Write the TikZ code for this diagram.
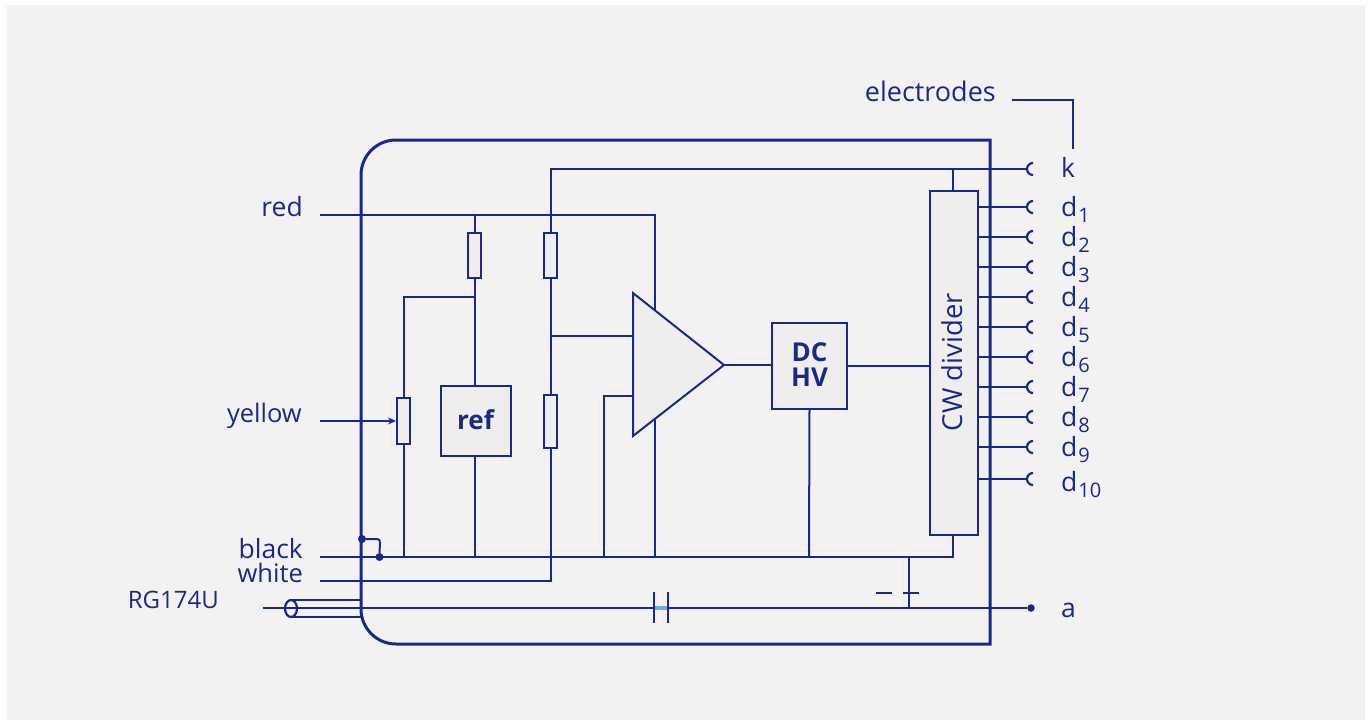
\documentclass[tikz,border=0pt]{standalone}
\usepackage{fontspec}
\setmainfont{Open Sans}
\usetikzlibrary{arrows.meta}
\definecolor{ink}{HTML}{1A2A82}
\definecolor{bgc}{HTML}{F2F2F2}
\definecolor{boxc}{HTML}{EEEEEE}
\definecolor{capc}{HTML}{6FA8DC}
\tikzset{
  wire/.style={draw=ink,line width=2pt},
  frame/.style={draw=ink,line width=3pt},
  boxn/.style={draw=ink,line width=2pt,fill=boxc,inner sep=0pt,minimum width=#1},
  res/.style={draw=ink,line width=2pt,fill=boxc,inner sep=0pt,minimum width=13pt},
  lab/.style={text=ink,font=\fontsize{26.5}{28}\selectfont,inner sep=0pt},
  labr/.style={lab,anchor=base east},
  labl/.style={lab,anchor=base west},
  dotn/.style={circle,fill=ink,inner sep=0pt,minimum size=8pt},
  blab/.style={text=ink,font=\fontsize{26}{28}\selectfont\bfseries,align=center},
  term/.style={draw=ink,line width=2.2pt},
}
\newcommand{\dsub}[1]{d\raisebox{-6pt}{\fontsize{20}{20}\selectfont\kern1pt #1}}
\begin{document}
\begin{tikzpicture}[x=1pt,y=-1pt]
\useasboundingbox (0,0) rectangle (1371,720);
\fill[white] (0,0) rectangle (1371,720);
\fill[bgc] (7,5) rectangle (1365,720);
% named points
\foreach \n/\x/\y in {redS/320/215,redJ/474.5/215,redC/654.5/215,redE/654.5/557,
  whS/320/581,whC/550.5/581,kC/550.5/169,kJ/953/169,
  blS/320/557,blC/953/557,gA/403.5/557,gB/474.5/557,gC/603.5/557,gE/809/557,gF/909/557,
  tap/474.5/297,tapC/403.5/297,fb/550.5/336,fbE/633/336,inC/603.5/396,inE/633/396,
  yS/320/421,aS/263/608,aMid/909/608,capL/654/608,capR/668/608,
  capLt/654/592,capLb/654/623,capRt/668/592,capRb/668/623,
  batL1/876/592.5,batL2/892/592.5,batR1/903/592.5,batR2/919/592.5,
  cxT/291/600,cxTe/361/600,cxB/291/617,cxBe/361/617,
  elA/1012/100,elB/1073/100,elC/1073/149,conK/380/539}{\coordinate (\n) at (\x,\y);}
% wires under boxes
\draw[wire] (redS) -- (redC) -- (redE);
\draw[wire] (redJ) -- (gB);
\draw[wire] (tap) -- (tapC) -- (gA);
\draw[wire] (whS) -- (whC) -- (kC) -- (1027,169);
\draw[wire] (fb) -- (fbE);
\draw[wire] (gC) -- (inC) -- (inE);
\draw[wire] (blS) -- (blC) -- (kJ);
% frame
\draw[frame] (361,175) arc[start angle=180,end angle=270,radius=35] -- (990,140) -- (990,644) -- (396,644) arc[start angle=90,end angle=180,radius=35] -- cycle;
% components
\node[res,minimum height=45pt] (r1) at (474.5,255) {};
\node[res,minimum height=45pt] (r2) at (550.5,255) {};
\node[res,minimum height=53pt] (r3) at (550.5,421) {};
\node[res,minimum height=46pt] (pot) at (403.5,421) {};
\draw[wire,-{Stealth[length=8pt,width=7pt]}] (yS) -- (pot.west);
\node[boxn=70pt,minimum height=70pt,blab] (ref) at (475.5,421) {\raisebox{2pt}{ref}};
\draw[wire,fill=boxc,line join=miter] (633,293) -- (724,365) coordinate (amO) -- (633,436) -- cycle;
\node[boxn=75pt,minimum height=86pt,blab] (hv) at (809.5,365.5) {\raisebox{-1pt}{DC}\\[-1pt]\raisebox{1pt}{HV}};
\node[boxn=48pt,minimum height=344pt] (cw) at (954,363) {};
\node[text=ink,font=\fontsize{27.5}{28}\selectfont,rotate=90,inner sep=0pt] (cwt) at (952,362) {CW divider};
\draw[wire] (amO) -- (amO -| hv.west);
\draw[wire] (hv.east) -- (cw.west |- hv.east);
\draw[wire] (hv.south) -- (gE);
% terminals
\foreach \n/\y in {k/169,d1/207,d2/237,d3/267,d4/297,d5/327,d6/357,d7/387,d8/417,d9/447,d10/479}{
  \coordinate (t\n) at (1027,\y);
  \draw[term] (1033,\y-6) arc[start angle=270,end angle=90,radius=6];
}
\foreach \n in {d1,d2,d3,d4,d5,d6,d7,d8,d9,d10}{
  \draw[wire] (cw.east |- t\n) -- (t\n);
}
% anode line
\node[dotn,minimum size=7.5pt] (aT) at (1031,608) {};
\draw[wire] (aS) -- (capL);
\draw[wire] (capR) -- (aT);
\draw[draw=capc,line width=4.5pt] (capL) -- (capR);
\draw[wire] (capLt) -- (capLb);
\draw[wire] (capRt) -- (capRb);
\draw[wire] (gF) -- (aMid);
\draw[wire] (batL1) -- (batL2);
\draw[wire] (batR1) -- (batR2);
% coax
\draw[wire] (cxT) -- (cxTe);
\draw[wire] (cxB) -- (cxBe);
\draw[draw=ink,line width=2.2pt,fill=bgc] (291,608.5) ellipse[x radius=6,y radius=8.5];
\draw[wire] (284,608) -- (297,608);
% shield link
\node[dotn] (d1n) at (362,539) {};
\node[dotn] (d2n) at (379.5,557) {};
\draw[wire,rounded corners=3pt] (d1n) -- (conK) -- (d2n);
% electrodes bracket
\draw[wire] (elA) -- (elB) -- (elC);
% labels
\node[labr] (Lred) at (303,216) {red};
\node[labr,font=\fontsize{25.5}{28}\selectfont] (Ly) at (302,422) {yellow};
\node[labr] (Lb) at (303,558) {black};
\node[labr,font=\fontsize{25.5}{28}\selectfont] (Lw) at (303,582) {white};
\node[labr,font=\fontsize{24}{28}\selectfont] (Lrg) at (219,608) {RG174U};
\node[labr,font=\fontsize{27}{28}\selectfont] (Le) at (996,101) {electrodes};
\node[labl] (Lk) at (1061,177) {k};
\node[labl] (Ld1) at (1061,216) {\dsub{1}};
\node[labl] (Ld2) at (1061,246) {\dsub{2}};
\node[labl] (Ld3) at (1061,276) {\dsub{3}};
\node[labl] (Ld4) at (1061,306) {\dsub{4}};
\node[labl] (Ld5) at (1061,336) {\dsub{5}};
\node[labl] (Ld6) at (1061,366) {\dsub{6}};
\node[labl] (Ld7) at (1061,396) {\dsub{7}};
\node[labl] (Ld8) at (1061,426) {\dsub{8}};
\node[labl] (Ld9) at (1061,456) {\dsub{9}};
\node[labl] (Ld10) at (1061,491) {\dsub{10}};
\node[labl] (La) at (1061,617) {a};
\end{tikzpicture}
\end{document}
